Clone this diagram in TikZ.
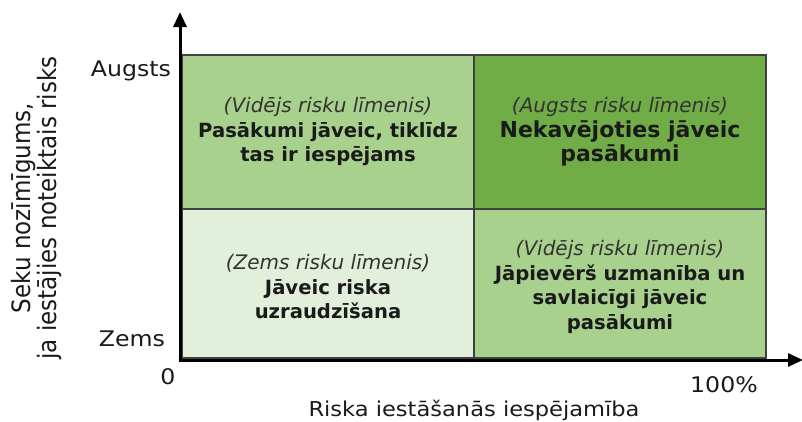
\documentclass[tikz,border=0pt]{standalone}
\usepackage{fontspec}
\setmainfont{DejaVu Sans}
\newfontfamily\axisfont{DejaVu Sans}[FakeStretch=1.1]
\newfontfamily\ylabfont{DejaVu Sans}
\usetikzlibrary{arrows.meta}
\definecolor{cmid}{HTML}{A9D18E}
\definecolor{chigh}{HTML}{70AD47}
\definecolor{clow}{HTML}{E2EFDA}
\definecolor{cborder}{HTML}{404040}
\definecolor{itc}{HTML}{333333}
\definecolor{bfc}{HTML}{1A1A1A}
\newcommand{\itl}[1]{{\fontsize{20}{24.5}\selectfont\itshape\color{itc}#1}}
\newcommand{\bfl}[1]{{\fontsize{19.6}{24.5}\selectfont\bfseries\color{bfc}#1}}
\newcommand{\bfL}[1]{{\fontsize{22}{24.5}\selectfont\bfseries\color{bfc}#1}}
\tikzset{
  cellbox/.style={draw=cborder, line width=1.5pt},
  celltext/.style={align=center, inner sep=0pt, font={\fontsize{19}{24.5}\selectfont}},
  axisline/.style={line width=3pt, -{Triangle[length=15pt,width=13pt]}},
  axlab/.style={inner sep=0pt, text=bfc, font={\axisfont\fontsize{21.5}{25}\selectfont}},
}
\begin{document}
\begin{tikzpicture}[x=1pt,y=-1pt]
\useasboundingbox (0,0) rectangle (802,421);
% cells
\filldraw[cellbox, fill=cmid] (182,55) rectangle (474,209);
\filldraw[cellbox, fill=chigh] (474,55) rectangle (766,209);
\filldraw[cellbox, fill=clow] (182,209) rectangle (474,358);
\filldraw[cellbox, fill=cmid] (474,209) rectangle (766,358);
% cell texts
\node[celltext] (tl) at (328,132) {\itl{(Vidējs risku līmenis)}\\\bfl{Pasākumi jāveic, tiklīdz}\\\bfl{tas ir iespējams}};
\node[celltext] (tr) at (620,132) {\itl{(Augsts risku līmenis)}\\\bfL{Nekavējoties jāveic}\\\bfL{pasākumi}};
\node[celltext] (bl) at (328,287) {\itl{(Zems risku līmenis)}\\\bfl{Jāveic riska}\\\bfl{uzraudzīšana}};
\node[celltext] (br) at (620,287) {\itl{(Vidējs risku līmenis)}\\\bfl{Jāpievērš uzmanība un}\\\bfl{savlaicīgi jāveic}\\\bfl{pasākumi}};
% axes
\coordinate (o) at (180,360);
\coordinate (ytip) at (180,12);
\coordinate (xtip) at (803,360);
\draw[axisline] ([yshift=-1.5pt]o) -- (ytip);
\draw[axisline] ([xshift=-1.5pt]o) -- (xtip);
% axis labels
\node[axlab] (hi) at (131,71) {Augsts};
\node[axlab] (lo) at (132,339) {Zems};
\node[axlab] (zero) at (168,377) {0};
\node[axlab] (full) at (724,385) {100\%};
\node[axlab, font={\axisfont\fontsize{20.5}{24}\selectfont}] (xlab) at (474,410) {Riska iestāšanās iespējamība};
\node[inner sep=0pt, rotate=90, text=bfc, font={\ylabfont\fontsize{23}{25}\selectfont}] (ylab) at (38,208) {\scalebox{1}[1.1]{\begin{tabular}{@{}c@{}}Seku nozīmīgums,\\[-1pt]ja iestājies noteiktais risks\end{tabular}}};
\end{tikzpicture}
\end{document}
